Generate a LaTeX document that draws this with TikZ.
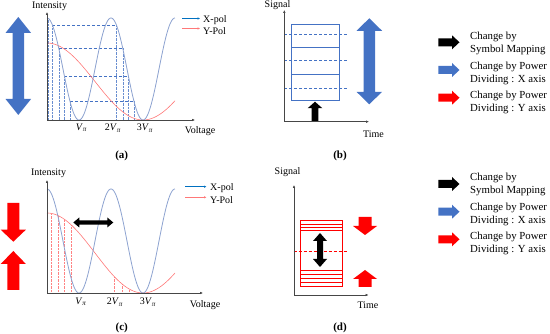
\documentclass[tikz,border=0pt]{standalone}
\usepackage{fontspec}
\setmainfont{Liberation Serif}
\usetikzlibrary{arrows.meta}
\definecolor{curveblue}{RGB}{140,162,208}
\definecolor{dashblue}{RGB}{68,114,196}
\definecolor{curvered}{RGB}{255,120,120}
\definecolor{dotred}{RGB}{255,130,130}
\definecolor{legblue}{RGB}{0,112,192}
\definecolor{axisgray}{RGB}{70,70,70}
\definecolor{pured}{RGB}{255,0,0}
% vertical single arrow: color, x, tip y, base y, signed head length, head half width, shaft half width
\newcommand{\VArrow}[7]{\fill[#1] ({#2},{#3}) -- ({#2+#6},{#3+#5}) -- ({#2+#7},{#3+#5}) -- ({#2+#7},{#4}) -- ({#2-#7},{#4}) -- ({#2-#7},{#3+#5}) -- ({#2-#6},{#3+#5}) -- cycle;}
% vertical double arrow: color, x, top, bottom, head length, head half, shaft half
\newcommand{\VDArrow}[7]{\fill[#1] ({#2},{#3}) -- ({#2+#6},{#3+#5}) -- ({#2+#7},{#3+#5}) -- ({#2+#7},{#4-#5}) -- ({#2+#6},{#4-#5}) -- ({#2},{#4}) -- ({#2-#6},{#4-#5}) -- ({#2-#7},{#4-#5}) -- ({#2-#7},{#3+#5}) -- ({#2-#6},{#3+#5}) -- cycle;}
% horizontal double arrow: color, y, left, right, head length, head half, shaft half
\newcommand{\HDArrow}[7]{\fill[#1] ({#3},{#2}) -- ({#3+#5},{#2-#6}) -- ({#3+#5},{#2-#7}) -- ({#4-#5},{#2-#7}) -- ({#4-#5},{#2-#6}) -- ({#4},{#2}) -- ({#4-#5},{#2+#6}) -- ({#4-#5},{#2+#7}) -- ({#3+#5},{#2+#7}) -- ({#3+#5},{#2+#6}) -- cycle;}
% right-pointing arrow: color, y, tail x, tip x, head length, head half, shaft half
\newcommand{\HArrow}[7]{\fill[#1] ({#4},{#2}) -- ({#4-#5},{#2-#6}) -- ({#4-#5},{#2-#7}) -- ({#3},{#2-#7}) -- ({#3},{#2+#7}) -- ({#4-#5},{#2+#7}) -- ({#4-#5},{#2+#6}) -- cycle;}
\newcommand{\Vpi}[1]{#1\textit{V}\textsubscript{\textit{π}}}
\begin{document}
\begin{tikzpicture}[x=1pt,y=-1pt,
  axis/.style={axisgray, line width=0.5pt, -{Latex[length=3pt,width=2.6pt]}},
  lab/.style={font=\fontsize{10}{12}\selectfont, inner sep=0pt},
  plab/.style={font=\fontsize{11}{13}\selectfont\bfseries, inner sep=0pt},
  legtxt/.style={font=\fontsize{10.8}{13.2}\selectfont, align=left, anchor=west, inner sep=0pt},
  bcurve/.style={curveblue, line width=0.8pt},
  rcurve/.style={curvered, line width=0.6pt},
  bdash/.style={dashblue, line width=0.7pt, dash pattern=on 3pt off 2pt},
  bdot/.style={dashblue!80, line width=0.4pt, densely dotted},
  rdot/.style={dotred, line width=0.4pt, densely dotted},
  boxline/.style={dashblue, line width=0.9pt},
  legline/.style={line width=0.6pt, -{Latex[length=2.5pt,width=2.5pt]}}]
\useasboundingbox (0,0) rectangle (550,334);

% ================= (a) =================
\coordinate (aO) at (47,120);
\coordinate (aY) at (47,12);
\coordinate (aX) at (195,120);
\foreach \xx/\yy in {48/18.2, 52.4/25, 58.7/48, 64.4/76, 69.9/101, 116.4/25, 122.7/48, 128.4/76, 133.9/101}
  \draw[bdot] (\xx,\yy) -- (\xx,120);
\draw[bdash] (52.4,25) -- (116.4,25);
\draw[bdash] (58.7,48) -- (122.7,48);
\draw[bdash] (64.4,76) -- (128.4,76);
\draw[bdash] (69.9,101) -- (133.9,101);
\draw[rcurve] plot[domain=47:175, samples=120] (\x,{120-38.5*(1+cos(1.875*(\x-47)))});
\draw[bcurve] plot[domain=47:175, samples=200] (\x,{120-51*(1+cos(5.625*(\x-47)))});
\draw[axis] (aO) -- (aY);
\draw[axis] (aO) -- (aX);
\node[lab] (aInt) at (49.5,6) {Intensity};
\node[lab] (aVolt) at (200,131) {Voltage};
\node[lab] (aV1) at (81.5,128) {\Vpi{}};
\node[lab] (aV2) at (113,128) {\Vpi{2}};
\node[lab] (aV3) at (145,128) {\Vpi{3}};
\node[plab] (aLab) at (121.7,155.5) {(a)};
\coordinate (aLb1) at (182,18.5);
\coordinate (aLb2) at (200,18.5);
\coordinate (aLr1) at (182,28.5);
\coordinate (aLr2) at (200,28.5);
\draw[legline, legblue] (aLb1) -- (aLb2);
\draw[legline, curvered] (aLr1) -- (aLr2);
\node[lab, anchor=west] (aXp) at (203,20) {X-pol};
\node[lab, anchor=west] (aYp) at (203,31.5) {Y-Pol};
\VDArrow{dashblue}{18.3}{17}{115}{16}{12.8}{5.8}

% ================= (b) =================
\coordinate (bO) at (284.3,121.7);
\coordinate (bY) at (284.3,10);
\coordinate (bX) at (369,121.7);
\draw[boxline] (291.7,24) rectangle (339.3,100.7);
\foreach \yy in {47.5,74.5}
  \draw[boxline] (291.7,\yy) -- (339.3,\yy);
\foreach \yy in {34.3,60.7,88.3}
  \draw[bdash] (284,\yy) -- (346.7,\yy);
\VArrow{black}{315}{101.7}{121.7}{6.5}{7.3}{3.4}
\draw[axis] (bO) -- (bY);
\draw[axis] (bO) -- (bX);
\node[lab] (bSig) at (277.5,5.5) {Signal};
\node[lab] (bTime) at (373.5,134.5) {Time};
\node[plab] (bLab) at (340,155.7) {(b)};
\VDArrow{dashblue}{369.3}{18.3}{104.3}{12.5}{12.8}{5.7}

% ================= legends =================
\HArrow{black}{42.3}{438.3}{459.5}{7.5}{7}{4}
\HArrow{dashblue}{70}{438.3}{459.5}{7.5}{7}{4}
\HArrow{pured}{97.7}{438.3}{459.5}{7.5}{7}{4}
\node[legtxt] (l1) at (470,43.7) {Change by\\Symbol Mapping};
\node[legtxt] (l2) at (470,73.3) {Change by Power\\Dividing : X axis};
\node[legtxt] (l3) at (470,102.5) {Change by Power\\Dividing : Y axis};
\HArrow{black}{184}{438.3}{459.5}{7.5}{7}{4}
\HArrow{dashblue}{211.7}{438.3}{459.5}{7.5}{7}{4}
\HArrow{pured}{239.3}{438.3}{459.5}{7.5}{7}{4}
\node[legtxt] (m1) at (470,184.5) {Change by\\Symbol Mapping};
\node[legtxt] (m2) at (470,214.7) {Change by Power\\Dividing : X axis};
\node[legtxt] (m3) at (470,243.7) {Change by Power\\Dividing : Y axis};

% ================= (c) =================
\coordinate (cO) at (47,293);
\coordinate (cY) at (47,180);
\coordinate (cX) at (203,293);
\foreach \xx in {51,58,64,71,114,122,129,136}
  \draw[rdot] (\xx,293) -- (\xx,{293-40*(1+cos(1.875*(\xx-47)))});
\draw[rcurve] plot[domain=47:175, samples=120] (\x,{293-40*(1+cos(1.875*(\x-47)))});
\draw[bcurve] plot[domain=47:175, samples=200] (\x,{293-52*(1+cos(5.625*(\x-47)))});
\draw[axis] (cO) -- (cY);
\draw[axis] (cO) -- (cX);
\node[lab] (cInt) at (48.5,173.5) {Intensity};
\node[lab] (cVolt) at (205,305) {Voltage};
\node[lab] (cV1) at (81,302) {\Vpi{}};
\node[lab] (cV2) at (115,302) {\Vpi{2}};
\node[lab] (cV3) at (148,302) {\Vpi{3}};
\node[plab] (cLab) at (121.7,328) {(c)};
\coordinate (cLb1) at (185,186.7);
\coordinate (cLb2) at (206.5,186.7);
\coordinate (cLr1) at (185,197.3);
\coordinate (cLr2) at (206.5,197.3);
\draw[legline, legblue] (cLb1) -- (cLb2);
\draw[legline, curvered] (cLr1) -- (cLr2);
\node[lab, anchor=west] (cXp) at (210,188.5) {X-pol};
\node[lab, anchor=west] (cYp) at (210,200.5) {Y-Pol};
\HDArrow{black}{222.5}{73.3}{113.3}{6}{5}{2.2}
\VArrow{pured}{13.3}{241.7}{203}{-12}{12.6}{6}
\VArrow{pured}{13.3}{251}{290}{13}{12.6}{6}

% ================= (d) =================
\coordinate (dO) at (294,295);
\coordinate (dY) at (294,185);
\coordinate (dX) at (368.5,295);
\draw[pured, line width=0.8pt] (300,220.7) rectangle (342.5,286);
\foreach \yy in {224.3,227.7,230.7,270,274,278,282.2}
  \draw[pured, line width=0.8pt] (300,\yy) -- (342.5,\yy);
\draw[pured, line width=0.6pt, dash pattern=on 3pt off 2pt] (293.5,251.7) -- (347,251.7);
\VDArrow{black}{320}{233}{267}{8}{7}{3}
\draw[axis] (dO) -- (dY);
\draw[axis] (dO) -- (dX);
\node[lab] (dSig) at (287.5,172) {Signal};
\node[lab] (dTime) at (368,305) {Time};
\node[plab] (dLab) at (340,328) {(d)};
\VArrow{pured}{365}{235}{217}{-9}{12}{6.5}
\VArrow{pured}{365}{270}{287}{9}{12}{6.5}
\end{tikzpicture}
\end{document}
